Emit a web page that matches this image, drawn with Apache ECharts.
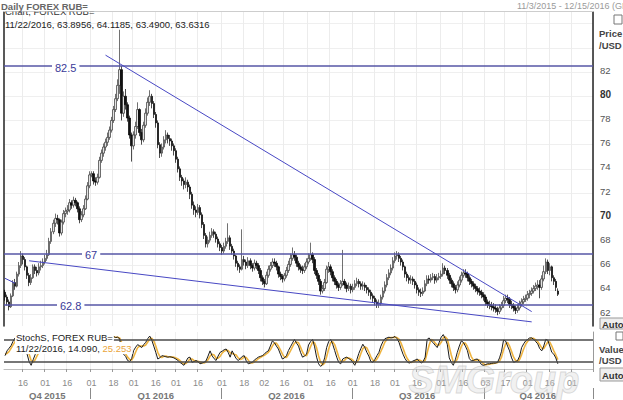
<!DOCTYPE html>
<html><head><meta charset="utf-8">
<script src="https://cdn.jsdelivr.net/npm/echarts@6/dist/echarts.min.js"></script>
<style>html,body{margin:0;padding:0;background:#fff}#c{width:623px;height:400px}</style>
</head><body><div id="c"></div>
<script>
// ---- data ----
const startDate = '2015-11-03';
const endDate = '2016-12-15';
const openP = [63.8,63.4,63.0,62.6,63.5,64.6,64.3,65.3,66.0,66.8,
 66.5,65.9,65.2,64.6,65.0,65.9,65.6,65.4,65.9,66.0,
 66.3,66.6,66.9,68.0,68.8,69.5,69.9,69.8,68.7,69.6,
 70.3,70.5,70.6,71.2,71.0,71.4,71.2,70.7,69.8,70.2,
 70.7,71.5,72.6,73.5,73.6,73.0,72.9,73.3,74.7,75.3,
 75.8,76.2,76.6,77.2,78.0,78.9,79.8,80.9,82.2,78.6,
 80.0,79.3,78.2,76.8,75.9,76.8,77.5,78.9,77.0,76.4,
 77.6,78.6,79.5,80.0,79.4,78.5,77.8,76.0,75.3,75.8,
 76.4,76.8,76.5,76.3,75.9,75.5,74.8,74.0,73.3,73.0,
 72.7,72.9,72.5,71.9,71.0,70.6,70.4,70.8,70.2,69.4,
 68.5,67.8,68.1,68.5,68.8,68.6,68.2,67.8,67.5,67.2,
 67.6,68.0,68.3,67.6,67.2,66.8,66.2,65.9,65.7,66.5,
 66.3,66.0,66.4,66.0,65.8,66.2,66.0,65.6,65.0,64.7,
 64.5,65.2,65.7,66.0,66.3,66.2,65.9,65.3,65.1,64.9,
 65.2,65.6,66.1,66.6,66.9,66.7,66.2,65.9,65.7,65.6,
 65.9,66.3,66.6,66.9,66.5,65.6,65.2,64.7,63.9,64.1,
 64.6,65.7,65.9,65.5,65.0,64.7,64.4,64.2,64.5,64.7,
 64.4,64.1,64.3,64.0,64.2,64.5,64.7,64.5,64.3,64.4,
 64.2,64.0,63.8,63.5,63.3,63.0,62.8,62.9,63.4,63.9,
 64.4,65.0,65.4,65.8,66.4,66.8,66.9,66.6,66.3,65.9,
 65.3,65.0,64.8,64.9,64.7,64.4,64.0,63.8,63.7,63.9,
 64.5,64.9,64.8,65.0,65.1,64.8,65.0,65.1,65.3,65.8,
 65.6,65.2,64.8,64.5,64.2,64.0,64.4,64.8,65.2,65.4,
 65.3,65.0,64.7,64.5,64.3,64.1,63.9,63.8,63.6,63.4,
 63.0,62.8,62.7,62.6,62.5,62.4,62.2,62.5,62.7,63.1,
 63.3,63.2,62.8,62.7,62.5,62.3,62.5,62.8,63.0,63.2,
 63.3,63.6,63.7,63.9,64.1,64.3,64.4,64.2,64.9,65.5,
 66.3,65.6,65.9,65.0,64.7,63.8956];
const closeP = [63.4,63.0,62.6,63.5,64.6,64.3,65.3,66.0,66.8,66.5,
 65.9,65.2,64.6,65.0,65.9,65.6,65.4,65.9,66.0,66.3,
 66.6,66.9,68.0,68.8,69.5,69.9,69.8,68.7,69.6,70.3,
 70.5,70.6,71.2,71.0,71.4,71.2,70.7,69.8,70.2,70.7,
 71.5,72.6,73.5,73.6,73.0,72.9,73.3,74.7,75.3,75.8,
 76.2,76.6,77.2,78.0,78.9,79.8,80.9,82.2,78.6,80.0,
 79.3,78.2,76.8,75.9,76.8,77.5,78.9,77.0,76.4,77.6,
 78.6,79.5,80.0,79.4,78.5,77.8,76.0,75.3,75.8,76.4,
 76.8,76.5,76.3,75.9,75.5,74.8,74.0,73.3,73.0,72.7,
 72.9,72.5,71.9,71.0,70.6,70.4,70.8,70.2,69.4,68.5,
 67.8,68.1,68.5,68.8,68.6,68.2,67.8,67.5,67.2,67.6,
 68.0,68.3,67.6,67.2,66.8,66.2,65.9,65.7,66.5,66.3,
 66.0,66.4,66.0,65.8,66.2,66.0,65.6,65.0,64.7,64.5,
 65.2,65.7,66.0,66.3,66.2,65.9,65.3,65.1,64.9,65.2,
 65.6,66.1,66.6,66.9,66.7,66.2,65.9,65.7,65.6,65.9,
 66.3,66.6,66.9,66.5,65.6,65.2,64.7,63.9,64.1,64.6,
 65.7,65.9,65.5,65.0,64.7,64.4,64.2,64.5,64.7,64.4,
 64.1,64.3,64.0,64.2,64.5,64.7,64.5,64.3,64.4,64.2,
 64.0,63.8,63.5,63.3,63.0,62.8,62.9,63.4,63.9,64.4,
 65.0,65.4,65.8,66.4,66.8,66.9,66.6,66.3,65.9,65.3,
 65.0,64.8,64.9,64.7,64.4,64.0,63.8,63.7,63.9,64.5,
 64.9,64.8,65.0,65.1,64.8,65.0,65.1,65.3,65.8,65.6,
 65.2,64.8,64.5,64.2,64.0,64.4,64.8,65.2,65.4,65.3,
 65.0,64.7,64.5,64.3,64.1,63.9,63.8,63.6,63.4,63.0,
 62.8,62.7,62.6,62.5,62.4,62.2,62.5,62.7,63.1,63.3,
 63.2,62.8,62.7,62.5,62.3,62.5,62.8,63.0,63.2,63.3,
 63.6,63.7,63.9,64.1,64.3,64.4,64.2,64.9,65.5,66.3,
 65.6,65.9,65.0,64.7,64.2,63.6316];
const lowP = [63.1,62.7,62.3,62.5,63.4,64.0,64.2,65.1,65.8,66.1,
 65.6,64.9,64.3,64.4,64.9,65.3,65.1,65.2,65.6,65.8,
 66.1,66.4,66.8,67.8,68.6,69.2,69.4,68.4,68.5,69.4,
 70.0,70.2,70.4,70.7,70.8,70.9,70.4,69.5,69.6,70.0,
 70.6,71.4,72.4,73.3,72.7,72.6,72.7,73.2,74.5,75.0,
 75.5,75.9,76.4,77.0,77.8,78.7,79.6,80.2,78.0,78.3,
 78.9,77.9,76.5,74.6,75.6,76.5,77.3,76.7,76.0,76.2,
 77.4,78.4,79.2,79.0,78.2,77.4,75.7,74.9,75.0,75.6,
 76.1,76.1,75.9,75.5,75.1,74.5,73.7,73.0,72.6,72.3,
 72.4,72.1,71.5,70.7,70.2,70.0,70.2,69.9,69.1,68.2,
 67.5,67.5,67.9,68.3,68.3,67.9,67.5,67.2,66.9,67.0,
 67.4,67.8,67.3,66.9,66.5,65.9,65.6,65.4,65.6,66.0,
 65.7,65.8,65.7,65.5,65.6,65.7,65.3,64.7,64.4,64.2,
 64.4,65.0,65.5,65.8,65.9,65.6,65.0,64.8,64.6,64.7,
 65.0,65.4,65.9,66.4,66.4,65.9,65.6,65.4,65.3,65.4,
 65.7,66.1,66.4,66.2,65.3,64.9,64.4,63.6,63.7,63.9,
 64.5,65.4,65.2,64.7,64.4,64.1,63.9,64.0,64.3,64.1,
 63.8,63.9,63.7,63.8,64.0,64.3,64.2,64.0,64.0,63.9,
 63.7,63.5,63.2,63.0,62.7,62.5,62.5,62.7,63.2,63.7,
 64.2,64.8,65.2,65.6,66.2,66.5,66.3,66.0,65.6,65.0,
 64.7,64.5,64.5,64.4,64.1,63.7,63.5,63.4,63.5,63.8,
 64.3,64.5,64.6,64.8,64.5,64.6,64.8,64.9,65.1,65.3,
 64.9,64.5,64.2,63.9,63.7,63.8,64.2,64.6,65.0,65.0,
 64.7,64.4,64.2,64.0,63.8,63.6,63.5,63.3,63.1,62.7,
 62.5,62.4,62.3,62.2,62.1,61.9,62.0,62.3,62.5,62.9,
 62.9,62.5,62.4,62.2,62.0,62.1,62.3,62.6,62.8,63.0,
 63.1,63.3,63.5,63.7,63.9,64.0,63.3,64.0,64.7,65.3,
 65.3,65.2,64.7,64.4,63.9,63.49];
const highP = [64.0,63.6,63.2,63.7,64.8,64.9,65.5,66.3,67.2,67.0,
 66.7,66.0,65.4,65.3,66.1,66.1,65.9,66.2,66.4,66.6,
 66.9,67.3,68.3,69.1,69.8,70.3,70.2,69.9,69.8,70.6,
 70.8,71.0,71.5,71.4,71.7,71.6,71.3,70.9,70.5,71.0,
 71.8,72.9,73.8,73.8,73.8,73.3,73.6,75.0,75.6,76.1,
 76.5,77.0,77.5,78.3,79.2,80.2,81.4,85.5,82.5,80.4,
 80.6,79.5,78.4,77.0,77.1,77.9,79.5,79.0,77.3,77.9,
 79.0,79.9,80.5,80.2,79.6,78.7,78.0,76.2,76.1,76.7,
 77.2,77.0,76.8,76.5,76.1,75.7,75.0,74.2,73.5,73.2,
 73.3,73.1,72.7,72.1,71.3,70.9,71.1,71.0,70.4,69.6,
 68.7,68.4,68.8,69.1,69.0,68.8,68.4,68.0,67.7,67.9,
 68.3,69.5,68.5,67.8,67.4,66.9,66.4,66.1,69.0,66.8,
 66.5,66.7,66.6,66.2,66.5,66.4,66.2,65.8,65.2,64.9,
 65.5,66.0,66.3,66.6,66.6,66.4,66.0,65.5,65.3,65.4,
 65.9,66.4,67.0,67.5,67.2,66.9,66.4,66.1,66.0,66.2,
 66.6,67.0,67.9,67.1,66.7,65.8,65.4,64.9,64.4,64.9,
 66.0,66.3,66.1,65.7,65.2,64.9,64.6,64.8,67.3,64.9,
 64.6,64.6,64.5,64.5,64.8,65.0,64.9,64.7,64.7,64.6,
 64.4,64.2,64.0,63.7,63.5,63.2,63.2,63.6,64.2,64.7,
 65.3,65.7,66.1,66.7,67.1,67.2,67.1,66.8,66.5,66.0,
 65.5,65.2,65.2,65.1,64.9,64.6,64.2,64.1,64.2,64.8,
 65.2,65.2,65.3,65.4,65.3,65.3,65.4,65.6,66.2,66.0,
 65.8,65.4,65.0,64.7,64.4,64.7,65.1,65.5,65.7,65.7,
 65.5,65.2,64.9,64.7,64.5,64.3,64.2,64.0,63.8,63.6,
 63.2,63.1,63.0,62.9,62.8,62.6,62.8,63.0,63.5,63.6,
 63.6,63.4,63.1,62.9,62.7,62.8,63.1,63.3,63.5,63.6,
 63.9,64.0,64.2,64.4,64.6,64.8,64.8,65.2,66.0,66.6,
 66.5,66.2,66.0,65.2,64.9,64.1185];
const stochK = [36,49,56,63,75,84,88,92,95,82,
 60,40,20,10,25,39,45,55,62,70,
 76,82,92,95,96,94,88,62,70,84,
 86,88,92,85,88,80,62,42,48,60,
 78,90,96,94,78,70,76,90,92,93,
 94,92,88,86,88,85,86,82,49,40,
 34,23,20,28,50,59,66,62,58,66,
 72,82,89,78,62,45,27,30,36,35,
 33,32,33,32,30,27,23,18,14,10,
 20,30,32,18,20,23,20,14,16,18,
 22,35,49,36,28,23,35,45,48,52,
 54,45,32,49,38,28,23,28,34,36,
 22,14,16,18,24,28,32,34,36,40,
 46,49,62,76,71,62,54,40,27,30,
 36,50,60,70,80,70,62,45,32,35,
 40,65,74,80,60,32,14,7,12,30,
 58,74,80,67,50,32,18,14,27,30,
 32,28,25,18,10,25,42,55,67,58,
 45,35,20,18,26,36,45,62,74,82,
 84,86,84,85,88,82,72,55,40,28,
 20,16,18,22,24,27,22,16,20,32,
 80,84,76,71,64,58,72,86,93,82,
 67,30,18,10,25,45,62,76,72,62,
 50,28,22,23,26,27,20,12,10,12,
 14,14,15,16,16,18,30,48,78,76,
 62,49,30,18,20,23,35,58,68,76,
 80,84,84,80,74,68,55,49,62,80,
 78,62,45,40,30,14.09];
const stochD = [40,42,47,56,65,74,82,88,92,90,
 79,61,40,23,18,25,36,46,54,62,
 69,76,83,90,94,95,93,81,73,72,
 80,86,89,88,88,84,77,61,51,50,
 62,76,88,93,89,81,75,79,86,92,
 93,93,91,89,87,86,86,84,72,57,
 41,32,26,24,33,46,58,62,62,62,
 65,73,81,83,76,62,45,34,31,34,
 35,33,33,32,32,30,27,23,18,14,
 15,20,27,27,23,20,21,19,17,16,
 19,25,35,40,38,29,29,34,43,48,
 51,50,44,42,40,38,30,26,28,33,
 31,24,17,16,19,23,28,31,34,37,
 41,45,52,62,70,70,62,52,40,32,
 31,39,49,60,70,73,71,59,46,37,
 36,47,60,73,71,57,35,18,11,16,
 33,54,71,74,66,50,33,21,20,24,
 30,30,28,24,18,18,26,41,55,60,
 57,46,33,24,21,27,36,48,60,73,
 80,84,85,85,86,85,81,70,56,41,
 29,21,18,19,21,24,24,22,19,23,
 44,65,80,77,70,64,65,72,84,87,
 81,60,38,19,18,27,44,61,70,70,
 61,47,33,24,24,25,24,20,14,11,
 12,13,14,15,16,17,21,32,52,67,
 72,62,47,32,23,20,26,39,54,67,
 75,80,83,83,79,74,66,57,55,64,
 73,73,62,49,38,25.253];
const levels = [82.5, 67, 62.8];
const levelLabels = ['82.5', '67', '62.8'];
const trendLines = [
  [['2016-01-12', 83.4], ['2016-11-03', 62.2]],
  [['2015-11-19', 66.4], ['2016-11-03', 61.35]],
  [['2015-11-03', 64.95], ['2015-11-10', 64.55]]
];
const stochLevels = [80, 20];
const priceLabelMax = 82;

// ---- layout (not data) ----
const levelLabelInset = [48, 78, 53];

// weekday categories
const cats = [];
(function () {
  let d = new Date(startDate + 'T00:00:00Z');
  const e = new Date(endDate + 'T00:00:00Z');
  while (d <= e) {
    const w = d.getUTCDay();
    if (w !== 0 && w !== 6) cats.push(d.toISOString().slice(0, 10));
    d = new Date(d.getTime() + 86400000);
  }
})();
const halfKey = s => s.slice(0, 7) + (+s.slice(8, 10) >= 16 ? 'b' : 'a');
const showDate = i => i > 0 && halfKey(cats[i]) !== halfKey(cats[i - 1]);
const qKey = s => s.slice(0, 4) + 'Q' + (Math.floor((+s.slice(5, 7) - 1) / 3) + 1);
const qStart = i => i > 0 && qKey(cats[i]) !== qKey(cats[i - 1]);
const qMid = {};
(function () {
  let s = 0;
  for (let i = 1; i <= cats.length; i++) {
    if (i === cats.length || qKey(cats[i]) !== qKey(cats[s])) { qMid[Math.floor((s + i - 1) / 2)] = true; s = i; }
  }
})();

const candleData = openP.map((o, i) => [o, closeP[i], lowP[i], highP[i]]);

const F = '"Liberation Sans", Arial, sans-serif';
const chart = echarts.init(document.getElementById('c'), null, { renderer: 'svg' });

const levelMarks = levels.map((v, k) => ({
  yAxis: v,
  lineStyle: { color: '#5656a6', width: 1.6, type: 'solid' },
  label: {
    show: true, formatter: levelLabels[k], position: 'insideStartTop',
    distance: [levelLabelInset[k], -7], color: '#3a3a98', fontSize: 11, fontFamily: F,
    backgroundColor: '#fff', padding: [0, 3]
  }
}));
const trendMarks = trendLines.map(t => [
  { coord: t[0], lineStyle: { color: '#4848c4', width: 1, type: 'solid' }, label: { show: false } },
  { coord: t[1] }
]);

chart.setOption({
  animation: false,
  grid: [
    { left: 4, right: 30, top: 11.6, height: 314.5 },
    { left: 4, right: 30, top: 332, height: 38.5 }
  ],
  xAxis: [
    { type: 'category', gridIndex: 0, data: cats, position: 'top', boundaryGap: true,
      axisLine: { show: true, lineStyle: { color: '#9a9a9a', width: 1 } },
      axisTick: { show: false }, axisLabel: { show: false },
      splitLine: { show: true, interval: (i) => showDate(i), lineStyle: { color: '#ececec', width: 1 } } },
    { type: 'category', gridIndex: 1, data: cats, position: 'bottom', offset: 4, boundaryGap: true,
      axisLine: { show: true, lineStyle: { color: '#bdbdbd' } },
      axisTick: { show: true, interval: (i) => showDate(i), length: 3, lineStyle: { color: '#999' } },
      axisLabel: { show: true, interval: (i) => showDate(i), formatter: v => v.slice(8, 10),
        color: '#8a8a8a', fontSize: 9, fontFamily: F, margin: 5 },
      splitLine: { show: true, interval: (i) => showDate(i), lineStyle: { color: '#efefef' } } },
    { type: 'category', gridIndex: 1, data: cats, position: 'bottom', offset: 19, boundaryGap: true,
      axisLine: { show: false },
      axisTick: { show: true, interval: (i) => qStart(i), length: 11, lineStyle: { color: '#8a8a8a', width: 1 } },
      axisLabel: { show: true, interval: (i) => !!qMid[i],
        formatter: v => 'Q' + qKey(v).slice(5) + ' ' + v.slice(0, 4),
        color: '#777', fontSize: 9.5, fontWeight: 'bold', fontFamily: F, margin: 2 },
      splitLine: { show: false } }
  ],
  yAxis: [
    { type: 'value', gridIndex: 0, position: 'right', min: 61, max: 87, interval: 1,
      axisLine: { show: true, lineStyle: { color: '#222', width: 1.5 } },
      axisTick: { show: false },
      axisLabel: { show: true, margin: 7, fontFamily: F, fontSize: 9.5, color: '#555', padding: [0, 0, 4, 0],
        formatter: v => (v % 2 === 0 && v <= priceLabelMax ? (v % 10 === 0 ? '{b|' + v + '}' : String(v)) : ''),
        rich: { b: { fontWeight: 'bold', color: '#333', fontSize: 10, fontFamily: F } } },
      splitLine: { show: true, lineStyle: { color: ['rgba(0,0,0,0)', '#efefef'], width: 1 } } },
    { type: 'value', gridIndex: 0, position: 'left', min: 61, max: 87,
      axisLine: { show: true, lineStyle: { color: '#222', width: 1.5 } },
      axisTick: { show: false }, axisLabel: { show: false }, splitLine: { show: false } },
    { type: 'value', gridIndex: 1, position: 'right', min: 0, max: 100,
      axisLine: { show: true, lineStyle: { color: '#9a9a9a', width: 1 } },
      axisTick: { show: false }, axisLabel: { show: false }, splitLine: { show: false } }
  ],
  series: [
    { type: 'candlestick', xAxisIndex: 0, yAxisIndex: 0, data: candleData, barWidth: 2,
      itemStyle: { color: '#e2e2e2', color0: '#111', borderColor: '#333', borderColor0: '#000', borderWidth: 0.7 },
      markLine: { silent: true, symbol: ['none', 'none'], animation: false,
        data: levelMarks.concat(trendMarks) } },
    { type: 'line', name: '%D', xAxisIndex: 1, yAxisIndex: 2, data: stochD, symbol: 'none',
      lineStyle: { color: '#efb440', width: 1.6 }, z: 3 },
    { type: 'line', name: '%K', xAxisIndex: 1, yAxisIndex: 2, data: stochK, symbol: 'none',
      lineStyle: { color: '#1a1a1a', width: 1 }, z: 4,
      markLine: { silent: true, symbol: ['none', 'none'], label: { show: false },
        lineStyle: { color: '#4a4a4a', width: 1.5, type: 'solid' },
        data: stochLevels.map(v => ({ yAxis: v })) } }
  ],
  graphic: [
    { type: 'text', top: 360, z: 1, silent: true, left: 408,
      style: { text: 'SMGroup', font: 'italic bold 38px ' + F, fill: 'rgba(215,215,215,0.35)',
        stroke: 'rgba(170,170,170,0.45)', lineWidth: 1 } },
    { type: 'text', left: 5, top: 6, z: 50,
      style: { text: 'Chart, FOREX RUB=', font: '9.5px ' + F, fill: '#333' } },
    { type: 'rect', z: 60, shape: { x: 0, y: 0, width: 623, height: 11.5 }, style: { fill: '#fff' } },
    { type: 'text', left: 1, top: 1, z: 70,
      style: { text: 'Daily FOREX RUB=', font: 'bold 9.5px ' + F, fill: '#666' } },
    { type: 'text', left: 517, top: 1, z: 70,
      style: { text: '11/3/2015 - 12/15/2016 (GMT)', font: '9px ' + F, fill: '#9a9a9a' } },
    { type: 'text', left: 5, top: 19, z: 70,
      style: { text: '11/22/2016, 63.8956, 64.1185, 63.4900, 63.6316', font: '9.5px ' + F, fill: '#222' } },
    { type: 'rect', z: 70, shape: { x: 614, y: 15, width: 8, height: 9 }, style: { fill: '#fff', stroke: '#777', lineWidth: 1 } },
    { type: 'text', left: 599, top: 28, z: 70, style: { text: 'Price', font: 'bold 9.5px ' + F, fill: '#444' } },
    { type: 'text', left: 599, top: 40, z: 70, style: { text: '/USD', font: 'bold 9.5px ' + F, fill: '#444' } },
    { type: 'rect', z: 70, shape: { x: 600, y: 318, width: 24, height: 11 }, style: { fill: '#eeeeee', stroke: '#999', lineWidth: 1 } },
    { type: 'text', left: 602, top: 319, z: 71, style: { text: 'Auto', font: 'bold 9.5px ' + F, fill: '#333' } },
    { type: 'rect', z: 70, shape: { x: 616, y: 332, width: 7, height: 8 }, style: { fill: '#fff', stroke: '#777', lineWidth: 1 } },
    { type: 'text', left: 599, top: 344, z: 70, style: { text: 'Value', font: 'bold 9.5px ' + F, fill: '#444' } },
    { type: 'text', left: 599, top: 355, z: 70, style: { text: '/USD', font: 'bold 9.5px ' + F, fill: '#444' } },
    { type: 'rect', z: 70, shape: { x: 600, y: 368, width: 24, height: 13 }, style: { fill: '#eeeeee', stroke: '#999', lineWidth: 1 } },
    { type: 'text', left: 602, top: 370, z: 71, style: { text: 'Auto', font: 'bold 9.5px ' + F, fill: '#333' } },
    { type: 'text', left: 15, top: 331, z: 70,
      style: { text: 'StochS, FOREX RUB=', font: '9.5px ' + F, fill: '#222', backgroundColor: '#fff', padding: [1, 1] } },
    { type: 'text', left: 15, top: 342, z: 70,
      style: { text: '{a|11/22/2016, 14.090, }{b|25.253}', font: '9.5px ' + F, backgroundColor: '#fff', padding: [1, 1],
        rich: { a: { fill: '#222', font: '9.5px ' + F }, b: { fill: '#eaa43a', font: '9.5px ' + F } } } }
  ]
});
</script>
</body></html>
